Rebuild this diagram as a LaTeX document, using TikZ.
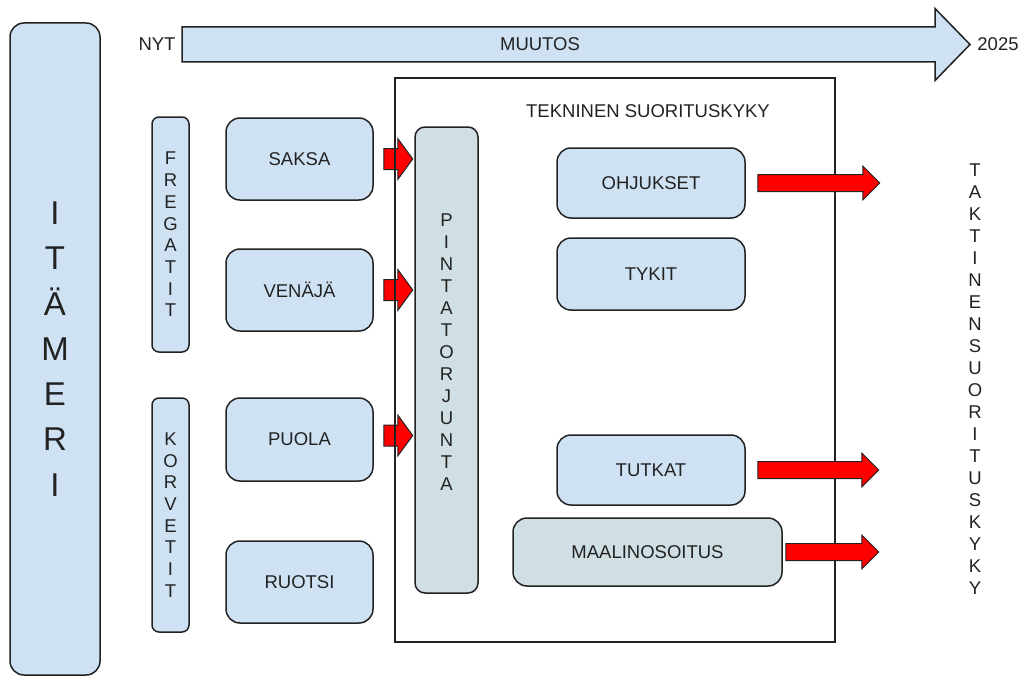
\documentclass[tikz,border=0pt]{standalone}
\usepackage{fontspec}
\setmainfont{Liberation Sans}
\definecolor{paleblue}{HTML}{CFE2F3}
\definecolor{palegrey}{HTML}{D0DFE3}
\definecolor{darkline}{HTML}{222222}

\tikzset{
  every node/.style={font=\fontsize{18.5}{22}\selectfont, text=darkline},
  rbox/.style={draw=darkline, line width=1.5pt, rounded corners=14pt, fill=paleblue, inner sep=0pt},
  thinbox/.style={rbox, rounded corners=7pt},
  letters/.style={align=center, font=\fontsize{18.5}{21.7}\selectfont},
  redarrow/.style={fill=red, draw=darkline, line width=1pt},
  timearrow/.style={fill=paleblue, draw=darkline, line width=1.5pt},
  % length, shaft half width, head half width, head length
  pics/blockarrow/.style n args={4}{code={
    \filldraw (0,-#2) -- (#1-#4,-#2) -- (#1-#4,-#3) -- (#1,0)
      -- (#1-#4,#3) -- (#1-#4,#2) -- (0,#2) -- cycle;
  }},
}

\begin{document}
\begin{tikzpicture}[x=1pt,y=-1pt]
    \useasboundingbox (0,0) rectangle (1026,677);

    % time line
    \node (nyt) at (157,44.5) {NYT};
    \node (vuosi) at (998,44.5) {2025};
    \pic[timearrow] at (182,44.5) {blockarrow={788}{17.5}{36}{35}};
    \node (muutos) at (540,44.5) {MUUTOS};

    % sea
    \node[rbox, minimum width=90pt, minimum height=652pt, align=center,
          font=\fontsize{33}{45.3}\selectfont] (itameri) at (55,349) {I\\T\\Ä\\M\\E\\R\\I};

    % ship classes
    \node[thinbox, letters, minimum width=37pt, minimum height=235pt] (fregatit) at (170.5,234.5) {F\\R\\E\\G\\A\\T\\I\\T};
    \node[thinbox, letters, minimum width=37pt, minimum height=234pt] (korvetit) at (170.5,515) {K\\O\\R\\V\\E\\T\\I\\T};

    % countries
    \node[rbox, minimum width=147pt, minimum height=82pt] (saksa) at (299.5,159) {SAKSA};
    \node[rbox, minimum width=147pt, minimum height=82pt] (venaja) at (299.5,290) {VENÄJÄ};
    \node[rbox, minimum width=147pt, minimum height=83pt] (puola) at (299.5,439.5) {PUOLA};
    \node[rbox, minimum width=147pt, minimum height=82pt] (ruotsi) at (299.5,582) {RUOTSI};

    \pic[redarrow] at ([xshift=10pt]saksa.east) {blockarrow={29}{10.5}{20.5}{15}};
    \pic[redarrow] at ([xshift=10pt]venaja.east) {blockarrow={29}{10.5}{20.5}{15}};
    \pic[redarrow] at ([xshift=10pt,yshift=4pt]puola.east) {blockarrow={29}{10.5}{20.5}{15}};

    % technical performance
    \node[draw=darkline, line width=1.5pt, minimum width=440pt, minimum height=564pt, inner sep=0pt] (tekninen) at (615,360) {};
    \node (teksti) at (648,111) {TEKNINEN SUORITUSKYKY};

    \node[rbox, fill=palegrey, rounded corners=10pt, minimum width=63pt, minimum height=466pt] (pinta) at (446.5,360) {};
    \node[letters, font=\fontsize{18.5}{22}\selectfont] (pintateksti) at (446.5,352) {P\\I\\N\\T\\A\\T\\O\\R\\J\\U\\N\\T\\A};

    \node[rbox, minimum width=188pt, minimum height=70pt] (ohjukset) at (651,183) {OHJUKSET};
    \node[rbox, minimum width=188pt, minimum height=72pt] (tykit) at (651,274) {TYKIT};
    \node[rbox, minimum width=188pt, minimum height=70pt] (tutkat) at (651,470) {TUTKAT};
    \node[rbox, fill=palegrey, minimum width=269pt, minimum height=68pt] (maali) at (647.5,552) {MAALINOSOITUS};

    \pic[redarrow] at ([xshift=12pt]ohjukset.east) {blockarrow={122}{8.5}{17}{17}};
    \pic[redarrow] at ([xshift=12pt]tutkat.east) {blockarrow={121}{8.5}{17}{17}};
    \pic[redarrow] at ([xshift=3pt]maali.east) {blockarrow={93}{8.5}{17}{17}};

    % tactical performance
    \node[align=center, font=\fontsize{18.5}{22}\selectfont] (taktinen) at (975,379)
      {T\\A\\K\\T\\I\\N\\E\\N\\S\\U\\O\\R\\I\\T\\U\\S\\K\\Y\\K\\Y};
\end{tikzpicture}
\end{document}
